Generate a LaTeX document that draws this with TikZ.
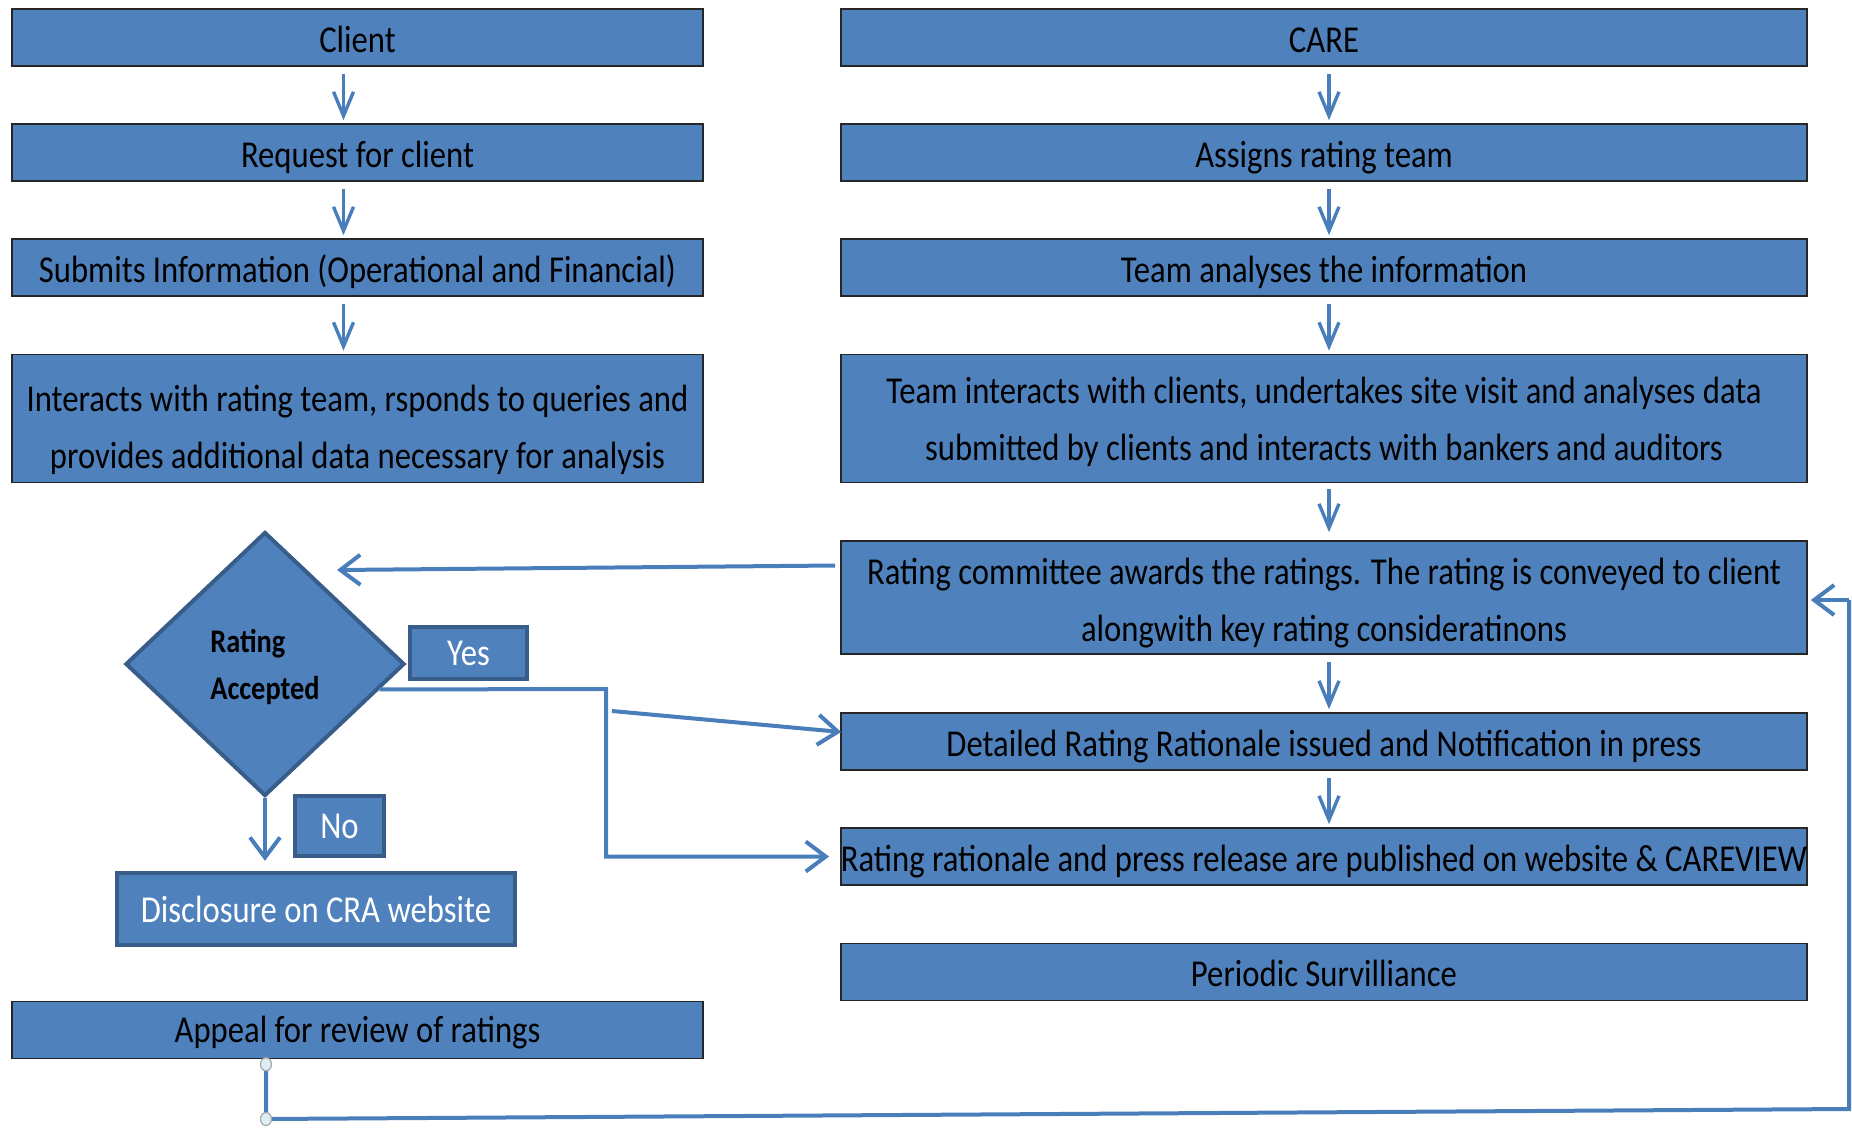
\documentclass[tikz,border=0pt]{standalone}
\usepackage{fontspec}
\setmainfont{Carlito}[FakeStretch=0.86]
\usetikzlibrary{arrows.meta,shapes.geometric,calc}
\definecolor{boxblue}{HTML}{4F81BD}
\definecolor{edgeblue}{HTML}{385D8A}
\definecolor{lineblue}{HTML}{4A7EBB}
\definecolor{handlefill}{HTML}{DDEEF4}
\begin{document}
\begin{tikzpicture}[x=1pt,y=-1pt,
  box/.style={draw=black!85, line width=1.6pt, fill=boxblue, inner sep=0pt, align=center,
    minimum height=57pt, font=\fontsize{38}{57}\selectfont, text height=35pt, text depth=6pt},
  twoline/.style={text height=105pt, text depth=6pt},
  lbox/.style={box, minimum width=691pt},
  rbox/.style={box, minimum width=966pt},
  tag/.style={draw=edgeblue, line width=4.5pt, fill=boxblue, inner sep=0pt, text=white,
    font=\fontsize{38}{46}\selectfont},
  arr/.style={draw=lineblue, line width=3.4pt, -{Straight Barb[length=24pt,width=20pt]}},
  bigarr/.style={draw=lineblue, line width=4pt, -{Straight Barb[length=20pt,width=30pt]}},
  conn/.style={draw=lineblue, line width=4pt},
  handle/.style={ellipse, draw=gray!70, fill=handlefill, line width=1.2pt, minimum width=11pt, minimum height=13pt, inner sep=0pt}
]
\useasboundingbox (0,0) rectangle (1852,1127);

% left column
\node[lbox] (client) at (357.5,37.5) {Client};
\node[lbox] (request) at (357.5,152.5) {Request for client};
\node[lbox] (submits) at (357.5,267.5) {Submits Information (Operational and Financial)};
\node[lbox, twoline, minimum height=128pt] (interacts) at (357.5,418.5) {Interacts with rating team, rsponds to queries and\\provides additional data necessary for analysis};
\node[lbox, text height=30pt] (appeal) at (357.5,1030) {Appeal for review of ratings};

% right column
\node[rbox] (care) at (1324,37.5) {CARE};
\node[rbox] (assigns) at (1324,152.5) {Assigns rating team};
\node[rbox] (analyses) at (1324,267.5) {Team analyses the information};
\node[rbox, twoline, text height=89pt, minimum height=128pt] (teamint) at (1324,418.5) {Team interacts with clients, undertakes site visit and analyses data\\submitted by clients and interacts with bankers and auditors};
\node[rbox, twoline, text height=93pt, minimum height=113pt] (rc) at (1324,597.5) {Rating committee awards the ratings. The rating is conveyed to client\\alongwith key rating consideratinons};
\node[rbox] (det) at (1324,741.5) {Detailed Rating Rationale issued and Notification in press};
\node[rbox] (rr) at (1324,856.5) {Rating rationale and press release are published on website \& CAREVIEW};
\node[rbox] (per) at (1324,972) {Periodic Survilliance};

% decision
\node[diamond, draw=edgeblue, line width=4pt, fill=boxblue, inner sep=0pt,
  minimum width=279pt, minimum height=264pt, align=left, text height=76pt, text depth=6pt,
  font=\fontsize{33}{47}\selectfont\bfseries] (dia) at (265,664) {Rating\\Accepted};
\node[tag, minimum width=117pt, minimum height=52pt] (yes) at (468.5,653) {Yes};
\node[tag, minimum width=89pt, minimum height=60pt] (no) at (339.5,826) {No};
\node[tag, minimum width=398pt, minimum height=72pt] (disc) at (316,909) {Disclosure on CRA website};

% vertical arrows, left
\draw[arr] ([xshift=-14pt,yshift=-7pt]client.south) -- ([xshift=-14pt,yshift=3pt]request.north);
\draw[arr] ([xshift=-14pt,yshift=-7pt]request.south) -- ([xshift=-14pt,yshift=3pt]submits.north);
\draw[arr] ([xshift=-14pt,yshift=-7pt]submits.south) -- ([xshift=-14pt,yshift=3pt]interacts.north);
% vertical arrows, right
\draw[arr] ([xshift=5pt,yshift=-7pt]care.south) -- ([xshift=5pt,yshift=3pt]assigns.north);
\draw[arr] ([xshift=5pt,yshift=-7pt]assigns.south) -- ([xshift=5pt,yshift=3pt]analyses.north);
\draw[arr] ([xshift=5pt,yshift=-7pt]analyses.south) -- ([xshift=5pt,yshift=3pt]teamint.north);
\draw[arr] ([xshift=5pt,yshift=-6pt]teamint.south) -- ([xshift=5pt,yshift=8pt]rc.north);
\draw[arr] ([xshift=5pt,yshift=-7pt]rc.south) -- ([xshift=5pt,yshift=3pt]det.north);
\draw[arr] ([xshift=5pt,yshift=-7pt]det.south) -- ([xshift=5pt,yshift=3pt]rr.north);

% rating committee -> decision
\coordinate (rcout) at ([xshift=-5pt,yshift=32pt]rc.west);
\coordinate (diain) at (337,570);
\draw[bigarr] (rcout) -- (diain);

% yes path
\coordinate (yesstart) at ($(dia.east)!0.19!(dia.south)$);
\coordinate (yescorner) at (606,689);
\draw[bigarr] (yesstart) -- (yescorner) -- (yescorner |- rr.west) -- ([xshift=-11pt]rr.west);
\coordinate (detfrom) at (612,711);
\draw[bigarr] (detfrom) -- ([xshift=1pt,yshift=9.5pt]det.west);

% no path
\draw[bigarr, shorten >=10pt] (dia.south) -- (dia.south |- disc.north);

% appeal loop
\coordinate (apbot) at ([xshift=-91.5pt]appeal.south);
\coordinate (aplow) at (266,1119);
\coordinate (rlow) at (1849,1109);
\coordinate (rhigh) at (1849,600);
\draw[conn] (apbot) -- (aplow) -- (rlow) -- (rhigh);
\draw[bigarr] (rhigh) -- ([xshift=3pt,yshift=-2.5pt]rc.east);
\node[handle] (h1) at ([yshift=-5pt]apbot) {};
\node[handle] (h2) at (aplow) {};
\end{tikzpicture}
\end{document}
